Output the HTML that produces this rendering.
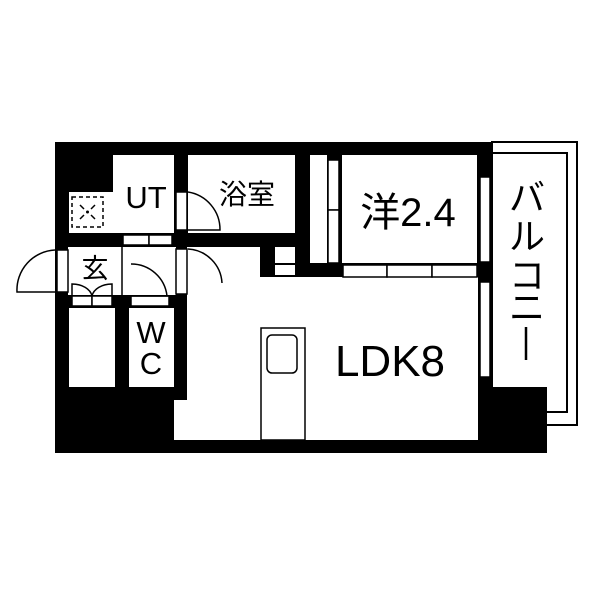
<!DOCTYPE html>
<html><head><meta charset="utf-8"><style>html,body{margin:0;padding:0;background:#fff}svg{display:block}text{font-family:"Liberation Sans","Noto Sans CJK JP",sans-serif;fill:#000}</style></head>
<body>
<svg width="600" height="600" viewBox="0 0 600 600" xmlns="http://www.w3.org/2000/svg">
<rect width="600" height="600" fill="#fff"/>
<rect x="492" y="142" width="85" height="283" fill="#fff" stroke="#000" stroke-width="2"/>
<rect x="492" y="153" width="75" height="259" fill="#fff" stroke="#000" stroke-width="2"/>
<rect x="55" y="142" width="437" height="311" fill="#000"/>
<rect x="478" y="387" width="69" height="66" fill="#000"/>
<g fill="#fff">
<rect x="113" y="155" width="61" height="78"/>
<rect x="69" y="192" width="105" height="41"/>
<rect x="188" y="155" width="107" height="78"/>
<rect x="68" y="247" width="108" height="48"/>
<rect x="69" y="308" width="46" height="79"/>
<rect x="129" y="308" width="45" height="79"/>
<rect x="187" y="247" width="73" height="193"/>
<rect x="187" y="277" width="291" height="163"/>
<rect x="174" y="400" width="20" height="40"/>
<rect x="275" y="247" width="20" height="16"/>
<rect x="275" y="265" width="20" height="10"/>
<rect x="342" y="155" width="135" height="108"/>
<rect x="310" y="155" width="17" height="108"/>
</g>
<g fill="#fff" stroke="#000" stroke-width="1.5">
<rect x="123" y="235" width="26" height="10"/><rect x="149" y="235" width="23" height="10"/>
<rect x="176" y="192" width="11" height="38"/>
<rect x="176" y="249" width="11" height="45"/>
<rect x="57" y="250" width="11" height="42"/>
<rect x="72" y="296" width="20" height="10"/><rect x="92" y="296" width="20" height="10"/>
<rect x="131" y="296" width="38" height="10"/>
<rect x="328" y="160" width="11" height="50"/><rect x="328" y="210" width="11" height="53"/>
<rect x="343" y="265" width="44" height="12"/><rect x="387" y="265" width="45" height="12"/><rect x="432" y="265" width="45" height="12"/>
<rect x="480" y="177" width="10" height="85"/>
<rect x="480" y="282" width="10" height="95"/>
<rect x="261" y="328" width="44" height="112"/>
<rect x="267" y="335" width="30" height="38" rx="5"/>
</g>
<g fill="none" stroke="#000" stroke-width="1.5">
<path d="M188,192 A38,38 0 0 1 220,230 L188,230"/>
<path d="M188,249 A36,36 0 0 1 222,283"/>
<path d="M55,250 A40,40 0 0 0 17,292 L55,292"/>
<path d="M131,264 A36,36 0 0 1 167,296 L131,296"/>
<path d="M72,296 L72,284 A20,14 0 0 1 92,296"/>
<path d="M112,296 L112,284 A20,14 0 0 0 92,296"/>
<line x1="122" y1="247" x2="122" y2="295"/>
<rect x="72" y="197" width="31" height="30" stroke-dasharray="4,3"/>
<path d="M80,205 l4,4 M95,205 l-4,4 M80,219 l4,-4 M95,219 l-4,-4"/>
</g>
<circle cx="87.5" cy="212" r="1.5" fill="#000"/>
<text x="146" y="208" font-size="31" text-anchor="middle">UT</text>
<text x="247" y="204" font-size="28" text-anchor="middle">浴室</text>
<text x="95" y="278" font-size="27" text-anchor="middle">玄</text>
<text x="151" y="343" font-size="31" text-anchor="middle">W</text>
<text x="151" y="374" font-size="31" text-anchor="middle">C</text>
<text x="408" y="226" font-size="40" text-anchor="middle">洋2.4</text>
<text x="390" y="376" font-size="44" text-anchor="middle">LDK8</text>
<text x="527" y="210" font-size="36" text-anchor="middle">バ</text>
<text x="527" y="249" font-size="36" text-anchor="middle">ル</text>
<text x="527" y="288" font-size="36" text-anchor="middle">コ</text>
<text x="527" y="320" font-size="36" text-anchor="middle">ニ</text>
<line x1="526" y1="327" x2="526" y2="360" stroke="#000" stroke-width="2.5"/>
</svg>
</body></html>
